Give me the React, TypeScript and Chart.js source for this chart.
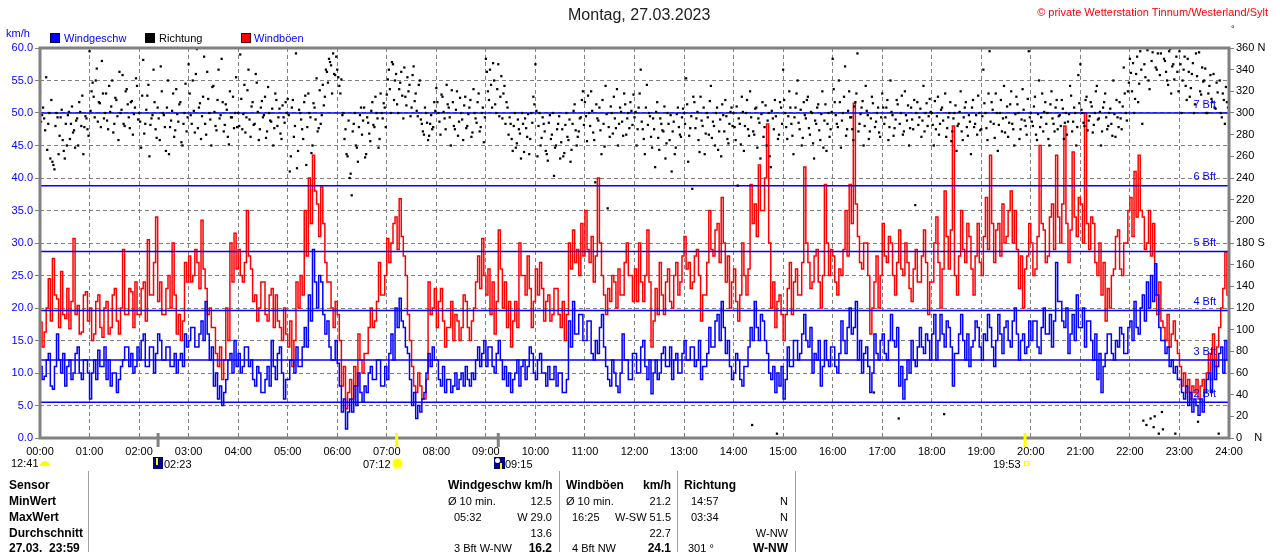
import { useEffect, useRef } from 'react';
import { Chart, registerables } from 'chart.js';

Chart.register(...registerables);

const FONT = 'Arial, "Liberation Sans", sans-serif';

const hourLabels = [
  '00:00', '01:00', '02:00', '03:00', '04:00', '05:00', '06:00', '07:00', '08:00',
  '09:00', '10:00', '11:00', '12:00', '13:00', '14:00', '15:00', '16:00', '17:00',
  '18:00', '19:00', '20:00', '21:00', '22:00', '23:00', '24:00',
];

// Windböen km/h, one row per hour (2.5 min steps)
const gustKmh: number[][] = [
  [17.8, 14, 16.3, 20, 24.5, 18, 27.6, 22, 21.4, 17, 25.6, 19, 18.4, 23, 16.8, 21, 30.7, 19, 20.4, 16, 16.3, 22, 22.5, 18],
  [20, 15, 16, 21, 22, 17, 15.5, 20, 21, 16, 17, 22, 23, 18, 16, 20, 29, 19, 19, 23, 22.5, 17, 24, 19],
  [19, 23, 24, 18, 30.5, 22, 22, 27, 34, 21, 24, 19, 19, 23, 25, 20, 30, 22, 16, 19, 15, 18, 27, 24],
  [28, 24, 25, 29, 27, 23, 33.5, 26, 23, 19, 20, 17, 17, 13, 11, 14, 9, 12, 20, 15, 30, 24, 31.5, 26],
  [29, 25, 24, 27, 35, 28, 26, 21, 22, 18, 20, 24, 24, 19, 18, 22, 23, 17, 22, 18, 17, 15, 20, 16],
  [14, 18, 11, 15, 24, 20, 25, 22, 35, 28, 40, 33, 43.5, 38, 36, 31, 38.6, 33, 27, 24, 24, 20, 17, 21],
  [19, 15, 8, 11, 4.5, 7, 9, 6, 11, 8, 16, 12, 10, 13, 13, 17, 20, 17, 18, 21, 27, 22, 22, 25],
  [30.7, 27, 30, 33, 34, 29, 36.8, 31, 28, 25, 19, 15, 11, 8, 7, 10, 8, 6, 6, 9, 24, 19, 20, 23],
  [17, 21, 23, 18, 14, 17, 17, 21, 15, 19, 18, 15, 17, 22, 21, 17, 15, 18, 20, 24, 28, 23, 30.7, 25],
  [22, 26, 19, 24, 16, 21, 32, 26, 20, 24, 17, 21, 14, 18, 21, 17, 30, 25, 25, 22, 28, 23, 17, 21],
  [26, 22, 27, 23, 18, 21, 22, 18, 19, 23, 23, 19, 17, 21, 15, 19, 30, 26, 32, 27, 29, 25, 33, 28],
  [35, 29, 27, 31, 24, 28, 40, 30, 25, 22, 19, 23, 21, 25, 24, 20, 26, 22, 22, 27, 30, 25, 25, 21],
  [26, 21, 30, 24, 21, 25, 32, 24, 14, 18, 23, 19, 27, 22, 19, 24, 26, 21, 20, 25, 27, 22, 24, 28],
  [31, 26, 27, 23, 24, 28, 29, 25, 18, 22, 22, 27, 35, 29, 28, 32, 33, 27, 37, 30, 24, 28, 20, 24],
  [26, 21, 18, 22, 30, 25, 22, 26, 39, 33, 36, 31, 42, 35, 35, 40, 48.3, 30, 20, 24, 17, 21, 22, 19],
  [15, 19, 23, 27, 19, 24, 26, 22, 22, 27, 41.7, 30, 27, 23, 24, 28, 29, 24, 20, 25, 39, 30, 25, 29],
  [28, 24, 22, 26, 25, 29, 35, 28, 39, 33, 51.5, 36, 31, 27, 26, 30, 30, 25, 16, 20, 24, 28, 20, 25],
  [33, 28, 27, 31, 30, 25, 22, 27, 32, 26, 25, 30, 27, 23, 21, 26, 29, 24, 24, 28, 32, 27, 19, 24],
  [24, 30, 34, 27, 20, 26, 38, 31, 26, 32, 48, 25, 22, 28, 35, 29, 27, 33, 31, 26, 22, 28, 33, 27],
  [25, 31, 37, 29, 43.5, 33, 27, 32, 33, 28, 36, 30, 31, 35, 38, 30, 35, 29, 23, 28, 20, 26, 28, 33],
  [30, 25, 26, 31, 45, 33, 32, 27, 28, 34, 36, 29, 43.5, 34, 30, 36, 48, 33, 27, 32, 44, 34, 31, 37],
  [36, 30, 50, 33, 29, 34, 33, 27, 25, 30, 22, 27, 18, 23, 20, 25, 26, 31, 32, 26, 25, 30, 30, 35],
  [37, 31, 41, 34, 43.5, 35, 34, 29, 30, 35, 28, 33, 22, 19, 24, 18, 17, 15, 19, 14, 16, 18, 15, 13],
  [11, 8, 10, 7, 9, 6, 8, 7, 9, 6, 8, 9, 7, 10, 13, 9, 16, 11, 14, 17, 20, 23, 28.6, 22],
];

// Windgeschw km/h, one row per hour (2.5 min steps)
const speedKmh: number[][] = [
  [11, 9, 9.5, 12, 13, 8, 7.5, 11, 16, 12, 10, 13, 8, 11, 12, 9, 10, 13, 14, 10, 9, 12, 12, 10],
  [6, 10, 12, 9, 13.5, 11, 11, 14, 9, 12, 8, 10, 10, 7, 9, 11, 12, 14, 14, 11, 13, 10, 11, 14],
  [12, 15, 16, 11, 11, 14, 14, 10, 13, 16, 15, 12, 12, 14, 14, 11, 11, 13, 10, 12, 13, 11, 16, 14],
  [15, 17, 17, 14, 14, 16, 18, 15, 21, 16, 12, 14, 8, 10, 6, 8, 5, 7, 9, 12, 13, 10, 15, 11],
  [13, 10, 11, 14, 14, 11, 12, 9, 8, 11, 10, 7, 7, 9, 11, 8, 15, 11, 9, 13, 14, 10, 6, 9],
  [9, 12, 12, 10, 14, 11, 11, 14, 17, 14, 22, 18, 29, 24, 20, 25, 24, 19, 16, 18, 14, 12, 12, 15],
  [11.5, 8, 4, 6, 1.4, 4, 6, 4, 8, 5, 10, 7, 5.5, 8, 7, 10, 11, 9, 9, 12, 12, 8, 8, 11],
  [9, 13, 16, 12, 20, 17, 21.5, 18, 17, 14, 13, 9, 5, 7, 3, 5, 4, 6, 7, 10, 13, 11, 14, 12],
  [12, 9, 8, 11, 7, 9, 9, 7, 8, 10, 7.5, 9, 10, 8, 11, 9, 8, 10, 9, 12, 14, 11, 13, 15],
  [11, 14, 14, 11, 10, 13, 15, 12, 9, 11, 8, 10, 7, 9, 10, 12, 8, 11, 12, 9, 11, 14, 13, 10],
  [9, 12, 13, 10, 10, 8, 11, 9, 9, 11, 8, 10, 10, 7, 7, 9, 18, 14, 21, 16, 16, 19, 19, 15],
  [15, 18, 18, 13, 12, 15, 13, 17, 19, 14, 11, 9, 8, 12, 10, 8, 7, 10, 16, 12, 12, 9, 9, 13],
  [13, 10, 10, 14, 15, 11, 9, 12, 6.8, 10, 12, 9, 10, 13, 14, 11, 11, 14, 9, 12, 13, 10, 10, 13],
  [15, 12, 12, 14, 14, 11, 12, 15, 9, 11, 11, 13, 17, 14, 14, 18, 19, 15, 21, 17, 13, 15, 11, 9],
  [10, 13, 12, 9, 8, 11, 11, 14, 17, 15, 21, 17, 15, 19, 18, 15, 13, 10, 9, 11, 7, 10, 8, 11],
  [6, 9, 14, 11, 11, 15, 15, 12, 13, 16, 19, 15, 14, 17, 10, 13, 12, 15, 8, 11, 15, 12, 11, 14],
  [14, 11, 10, 13, 18, 15, 13, 17, 20, 16, 17, 21, 12, 15, 10, 13, 14, 11, 7, 10, 16, 13, 12, 15],
  [16, 13, 12, 15, 19, 15, 14, 17, 8, 11, 6, 9, 12, 10, 15, 12, 11, 14, 17, 14, 13, 16, 15, 12],
  [16, 19, 12, 15, 19, 16, 14, 18, 17, 14, 8, 13, 13, 16, 19, 15, 12, 16, 11, 14, 15, 18, 17, 14],
  [12, 16, 15, 19, 17, 14, 11, 15, 19, 16, 13, 17, 18, 15, 14, 18, 20, 16, 12, 15, 16, 13, 14, 18],
  [15, 18, 18, 14, 13, 17, 20, 16, 16, 19, 14, 18, 27, 21, 21, 18, 17, 20, 13, 16, 19, 15, 22, 17],
  [17, 20, 14, 18, 18, 15, 12, 16, 9, 13, 7, 11, 13, 16, 16, 13, 12, 15, 14, 17, 16, 13, 13, 17],
  [18, 15, 21, 17, 16, 20, 22, 18, 24, 20, 25, 21, 26.8, 22, 17, 15, 15, 13, 14, 11, 12, 10, 11, 9],
  [9, 7, 6, 8, 5, 7, 4, 6, 5, 3.5, 6, 4, 7, 9, 10, 7, 12, 9, 11, 13, 14, 10, 15, 12],
];

// Richtung in degrees, one row per hour (readings at :00, :02.5, ...)
const directionDeg: number[][] = [
  [320, 298, 295, 333, 290, 258, 255, 248, 300, 262, 296, 275, 258, 270, 301, 290, 282, 268, 295, 310, 288, 262, 297, 285],
  [357, 320, 315, 330, 292, 309, 348, 295, 318, 285, 301, 330, 290, 312, 275, 300, 335, 288, 322, 296, 310, 280, 305, 325],
  [300, 268, 349, 290, 316, 260, 295, 340, 285, 305, 275, 320, 298, 265, 330, 287, 302, 278, 322, 292, 310, 270, 300, 283],
  [345, 298, 330, 282, 359, 305, 276, 315, 290, 338, 300, 270, 325, 288, 312, 295, 350, 283, 308, 278, 320, 296, 286, 333],
  [300, 354, 285, 326, 296, 340, 278, 310, 290, 328, 275, 305, 296, 315, 283, 300, 292, 270, 318, 288, 304, 276, 296, 310],
  [313, 246, 305, 278, 355, 265, 300, 285, 310, 252, 318, 296, 270, 305, 332, 286, 290, 326, 315, 338, 350, 344, 355, 335],
  [340, 325, 331, 300, 285, 260, 240, 224, 290, 270, 255, 298, 280, 305, 262, 291, 274, 310, 287, 300, 268, 318, 295, 305],
  [317, 340, 300, 345, 330, 308, 322, 338, 295, 315, 333, 326, 305, 343, 318, 297, 330, 290, 280, 300, 275, 290, 285, 310],
  [323, 300, 280, 315, 295, 326, 305, 270, 310, 285, 320, 292, 300, 275, 315, 288, 305, 278, 322, 295, 310, 283, 300, 273],
  [350, 320, 340, 305, 330, 300, 345, 315, 295, 325, 310, 280, 290, 265, 300, 272, 285, 258, 290, 295, 278, 262, 300, 315],
  [345, 260, 300, 277, 290, 265, 256, 298, 280, 242, 270, 290, 258, 285, 263, 300, 275, 255, 290, 308, 270, 283, 296, 320],
  [310, 274, 300, 320, 282, 236, 295, 305, 262, 290, 325, 212, 278, 300, 315, 286, 270, 305, 292, 318, 280, 300, 310, 289],
  [296, 270, 305, 340, 285, 262, 326, 300, 278, 295, 250, 310, 266, 290, 283, 258, 300, 275, 246, 292, 268, 305, 280, 296],
  [300, 332, 255, 286, 230, 310, 295, 275, 315, 288, 262, 300, 280, 325, 292, 270, 305, 283, 260, 298, 312, 276, 290, 305],
  [300, 275, 233, 290, 315, 265, 300, 285, 320, 12, 280, 305, 295, 258, 310, 287, 270, 300, 250, 295, 312, 4, 280, 305],
  [340, 300, 276, 320, 290, 262, 305, 330, 285, 270, 310, 295, 315, 280, 300, 258, 290, 308, 275, 320, 293, 265, 300, 285],
  [350, 310, 290, 330, 268, 300, 343, 285, 320, 296, 275, 310, 355, 290, 305, 270, 325, 298, 283, 315, 42, 292, 305, 278],
  [318, 290, 305, 275, 330, 298, 286, 312, 18, 300, 280, 320, 293, 270, 305, 285, 215, 310, 296, 278, 325, 300, 288, 313],
  [300, 270, 285, 315, 290, 305, 22, 278, 296, 310, 283, 300, 265, 290, 320, 275, 305, 287, 298, 262, 312, 290, 280, 300],
  [285, 340, 300, 275, 357, 310, 290, 318, 265, 300, 283, 325, 296, 278, 308, 290, 270, 315, 300, 285, 322, 293, 280, 357],
  [300, 288, 315, 275, 330, 296, 283, 310, 300, 270, 320, 290, 305, 285, 298, 312, 276, 300, 292, 325, 283, 305, 270, 335],
  [345, 300, 288, 315, 293, 310, 282, 300, 325, 295, 270, 305, 318, 285, 300, 290, 330, 278, 296, 310, 285, 342, 300, 320],
  [350, 320, 300, 336, 310, 357, 290, 345, 12, 330, 18, 356, 20, 340, 4, 355, 8, 348, 330, 357, 318, 345, 4, 338],
  [357, 300, 340, 325, 350, 315, 336, 300, 355, 15, 320, 342, 330, 300, 318, 335, 310, 305, 328, 4, 300, 318, 290, 310],
];

// Richtung in degrees, the readings in between (:01.25, :03.75, ...)
const directionDegMid: number[][] = [
  [292, 305, 284, 266, 300, 312, 252, 288, 296, 279, 303, 265, 290, 298, 276, 306, 284, 293, 270, 301, 316, 287, 295, 279],
  [302, 328, 296, 341, 310, 287, 318, 300, 293, 325, 306, 282, 314, 297, 338, 303, 290, 320, 308, 286, 311, 299, 332, 294],
  [292, 316, 281, 303, 326, 289, 298, 310, 277, 295, 343, 300, 287, 305, 262, 293, 318, 284, 299, 308, 273, 290, 327, 296],
  [318, 290, 302, 336, 286, 309, 297, 352, 280, 313, 294, 324, 301, 284, 340, 298, 310, 289, 303, 271, 296, 315, 300, 287],
  [288, 313, 299, 282, 321, 294, 306, 289, 336, 301, 285, 311, 298, 277, 324, 293, 304, 286, 312, 296, 281, 307, 291, 300],
  [298, 260, 312, 288, 249, 303, 294, 276, 316, 287, 300, 263, 309, 294, 283, 321, 298, 307, 340, 328, 347, 318, 336, 352],
  [333, 318, 298, 276, 262, 293, 244, 283, 300, 268, 287, 305, 293, 259, 296, 281, 302, 289, 315, 295, 276, 300, 309, 287],
  [331, 322, 347, 312, 336, 300, 328, 316, 342, 307, 320, 297, 335, 311, 302, 326, 294, 283, 305, 291, 279, 298, 287, 302],
  [310, 292, 317, 301, 285, 308, 296, 321, 288, 303, 279, 314, 294, 307, 286, 299, 312, 282, 300, 291, 318, 287, 305, 296],
  [338, 312, 326, 346, 308, 322, 297, 334, 318, 290, 305, 296, 276, 288, 268, 294, 281, 300, 264, 286, 299, 276, 291, 308],
  [302, 288, 270, 296, 283, 262, 291, 276, 300, 268, 285, 297, 273, 260, 289, 278, 294, 266, 302, 284, 278, 295, 312, 289],
  [297, 316, 288, 302, 275, 308, 293, 284, 312, 269, 299, 287, 306, 281, 295, 322, 290, 301, 279, 308, 295, 286, 302, 317],
  [301, 285, 318, 292, 276, 305, 289, 297, 268, 285, 301, 277, 295, 284, 306, 272, 290, 298, 283, 262, 299, 287, 278, 304],
  [290, 308, 279, 297, 315, 286, 301, 264, 293, 305, 281, 296, 311, 277, 288, 300, 266, 294, 308, 283, 297, 272, 301, 288],
  [287, 306, 295, 271, 301, 288, 312, 279, 296, 283, 304, 268, 291, 299, 278, 307, 293, 260, 302, 285, 297, 276, 310, 290],
  [312, 287, 297, 305, 279, 296, 318, 291, 303, 277, 298, 312, 286, 301, 272, 293, 305, 284, 299, 268, 308, 290, 278, 301],
  [322, 298, 287, 310, 293, 315, 279, 302, 296, 285, 306, 318, 283, 299, 311, 288, 302, 276, 295, 309, 287, 300, 282, 296],
  [305, 296, 312, 287, 301, 279, 294, 308, 290, 316, 283, 298, 307, 286, 294, 312, 300, 289, 304, 293, 283, 309, 297, 301],
  [289, 311, 297, 280, 303, 293, 318, 286, 300, 274, 295, 307, 288, 301, 283, 296, 310, 279, 292, 305, 287, 298, 316, 284],
  [297, 309, 286, 318, 292, 303, 277, 300, 289, 312, 295, 282, 306, 291, 320, 285, 299, 308, 276, 294, 303, 288, 313, 296],
  [292, 306, 280, 299, 287, 318, 301, 290, 276, 308, 295, 283, 312, 297, 288, 304, 291, 280, 299, 316, 292, 300, 287, 309],
  [303, 291, 312, 284, 297, 306, 289, 320, 294, 301, 283, 310, 296, 288, 304, 279, 299, 312, 287, 295, 306, 318, 293, 328],
  [337, 346, 313, 352, 327, 340, 16, 333, 358, 322, 348, 10, 342, 355, 335, 24, 350, 338, 326, 359, 343, 331, 352, 320],
  [345, 330, 352, 312, 338, 323, 346, 308, 334, 356, 317, 329, 341, 300, 325, 313, 336, 304, 319, 330, 296, 312, 324, 305],
];

const bftLevels = [5.5, 12, 19.6, 28.7, 38.8, 50];
const bftNames = ['2 Bft', '3 Bft', '4 Bft', '5 Bft', '6 Bft', '7 Bft'];

// sun / moon events (minutes of the day) marked on the time axis
const eventMinutes = [143, 432, 555, 1193];
const eventColors = ['#808080', '#ffff00', '#808080', '#ffff00'];

function toPoints(rows: number[][], closeDay: boolean, offset = 0) {
  const pts: { x: number; y: number }[] = [];
  rows.forEach((row, h) => {
    row.forEach((v, k) => pts.push({ x: h * 60 + (k * 60) / row.length + offset, y: v }));
  });
  if (closeDay) pts.push({ x: 1440, y: pts[pts.length - 1].y });
  return pts;
}

const overlayPlugin = {
  id: 'overlay',
  afterDatasetsDraw(chart: any) {
    const { ctx, chartArea: a, scales } = chart;
    ctx.save();
    ctx.font = `11px ${FONT}`;
    ctx.fillStyle = '#0000ff';
    ctx.textAlign = 'right';
    ctx.textBaseline = 'middle';
    bftLevels.forEach((v, i) => {
      ctx.fillText(bftNames[i], a.right - 13, scales.y.getPixelForValue(v) - 8.5);
    });
    ctx.strokeStyle = '#808080';
    ctx.lineWidth = 3;
    ctx.strokeRect(a.left, a.top, a.right - a.left, a.bottom - a.top);
    eventMinutes.forEach((m, i) => {
      const x = scales.x.getPixelForValue(m);
      ctx.fillStyle = eventColors[i];
      ctx.fillRect(x - 1.5, a.bottom - 5, 3, 14);
    });
    ctx.restore();
  },
};

function WindChart() {
  const canvasRef = useRef<HTMLCanvasElement>(null);
  const chartRef = useRef<Chart | null>(null);

  useEffect(() => {
    if (!canvasRef.current) return;

    const bftSets = bftLevels.map((v) => ({
      type: 'line' as const,
      data: [{ x: 0, y: v }, { x: 1440, y: v }],
      borderColor: '#0000ff',
      borderWidth: 1.5,
      pointRadius: 0,
      order: 1,
      yAxisID: 'y',
    }));

    const dirPoints = [...toPoints(directionDeg, false), ...toPoints(directionDegMid, false, 1.25)];

    chartRef.current = new Chart(canvasRef.current, {
      type: 'line',
      data: {
        datasets: [
          {
            label: 'Richtung',
            data: dirPoints,
            showLine: false,
            pointStyle: 'rect',
            pointRadius: 1.6,
            pointBorderWidth: 0,
            pointBackgroundColor: '#000000',
            yAxisID: 'y2',
            order: 0,
          },
          ...bftSets,
          {
            label: 'Windgeschw',
            data: toPoints(speedKmh, true),
            borderColor: '#0000ff',
            borderWidth: 1.5,
            stepped: true,
            pointRadius: 0,
            yAxisID: 'y',
            order: 2,
          },
          {
            label: 'Windböen',
            data: toPoints(gustKmh, true),
            borderColor: '#ff0000',
            borderWidth: 1.5,
            stepped: true,
            pointRadius: 0,
            yAxisID: 'y',
            order: 3,
          },
        ] as any,
      },
      options: {
        responsive: false,
        animation: false,
        layout: { padding: { top: 48, left: 0, right: 0, bottom: 0 } },
        plugins: { legend: { display: false }, tooltip: { enabled: false } },
        scales: {
          x: {
            type: 'linear',
            min: 0,
            max: 1440,
            afterFit: (s: any) => { s.height = 114; },
            ticks: {
              stepSize: 60,
              autoSkip: false,
              maxRotation: 0,
              minRotation: 0,
              padding: 7,
              color: '#000000',
              font: { family: FONT, size: 11 },
              callback: (v: any) => hourLabels[Math.round(Number(v) / 60)],
            },
            grid: { color: '#808080', drawTicks: false },
            border: { display: false, dash: [4, 3] },
          },
          y: {
            position: 'left',
            min: 0,
            max: 60,
            afterFit: (s: any) => { s.width = 40; },
            ticks: {
              stepSize: 5,
              padding: 2,
              color: '#0000ff',
              font: { family: FONT, size: 11 },
              callback: (v: any) => Number(v).toFixed(1),
            },
            grid: { color: '#808080', tickLength: 5, tickColor: '#808080' },
            border: { display: false, dash: [4, 3] },
          },
          y2: {
            position: 'right',
            min: 0,
            max: 360,
            afterFit: (s: any) => { s.width = 51; },
            ticks: {
              stepSize: 20,
              padding: 2,
              color: '#000000',
              font: { family: FONT, size: 11 },
              callback: (v: any) => {
                const n = Number(v);
                if (n === 0) return '0    N';
                if (n === 180) return '180 S';
                if (n === 360) return '360 N';
                return String(n);
              },
            },
            grid: { drawOnChartArea: false, tickLength: 5, tickColor: '#808080' },
            border: { display: false },
          },
        },
      } as any,
      plugins: [overlayPlugin],
    });

    return () => {
      chartRef.current?.destroy();
      chartRef.current = null;
    };
  }, []);

  return <canvas ref={canvasRef} width={1280} height={552} style={{ position: 'absolute', left: 0, top: 0 }} />;
}

function T({ x, y, right, bold, color, size, children }: any) {
  const style: any = {
    position: 'absolute',
    top: y - 7,
    lineHeight: '14px',
    whiteSpace: 'pre',
    fontFamily: FONT,
    fontSize: size ?? (bold ? 12 : 11),
    fontWeight: bold ? 'bold' : 'normal',
    color: color ?? '#000000',
  };
  if (right !== undefined) style.right = 1280 - right;
  else style.left = x;
  return <div style={style}>{children}</div>;
}

function Box({ x, y, w, h, bg, border }: any) {
  return (
    <div
      style={{
        position: 'absolute', left: x, top: y, width: w, height: h, background: bg,
        border: border ?? 'none', boxSizing: 'border-box',
      }}
    />
  );
}

const rowY = [485, 501, 517, 533, 548];

export default function App() {
  return (
    <div
      style={{
        position: 'fixed', left: 0, top: 0, width: 1280, height: 552,
        overflow: 'hidden', background: '#ffffff',
      }}
    >
      <WindChart />

      <T x={568} y={15} size={16} color="#202020">Montag, 27.03.2023</T>
      <T right={1268} y={12} color="#ff0000">© private Wetterstation Tinnum/Westerland/Sylt</T>
      <T x={1231} y={29} size={9}>°</T>

      <T x={6} y={33} color="#0000ff">km/h</T>
      <Box x={50} y={33} w={10} h={10} bg="#0000ff" border="1px solid #000050" />
      <T x={64} y={38} color="#0000ff">Windgeschw</T>
      <Box x={145} y={33} w={10} h={10} bg="#000000" />
      <T x={159} y={38}>Richtung</T>
      <Box x={241} y={33} w={10} h={10} bg="#ff0000" border="1px solid #500000" />
      <T x={254} y={38} color="#0000ff">Windböen</T>

      {/* sun and moon events below the time axis */}
      <T x={11} y={463}>12:41</T>
      <div style={{ position: 'absolute', left: 40, top: 461, width: 10, height: 5, background: '#ffff00', borderRadius: '5px 5px 0 0' }} />
      <Box x={153} y={457} w={10} h={12} bg="#000080" />
      <div style={{ position: 'absolute', left: 156, top: 458, width: 2, height: 7, background: '#ffff00' }} />
      <T x={164} y={464}>02:23</T>
      <T x={363} y={464}>07:12</T>
      <div style={{ position: 'absolute', left: 393, top: 459, width: 9, height: 9, background: '#ffff00', borderRadius: '50%', boxShadow: '0 0 2px 1px #ffff80' }} />
      <Box x={494} y={457} w={11} h={12} bg="#000080" />
      <div style={{ position: 'absolute', left: 495, top: 458, width: 5, height: 5, background: '#ffffff', borderRadius: '50%' }} />
      <div style={{ position: 'absolute', left: 500, top: 463, width: 2, height: 6, background: '#ffff00' }} />
      <T x={505} y={464}>09:15</T>
      <T x={993} y={464}>19:53</T>
      <Box x={1024} y={461} w={5} h={5} bg="transparent" border="1px solid #ffff00" />

      {/* summary table */}
      {[88, 559, 677, 795].map((x) => (
        <div key={x} style={{ position: 'absolute', left: x, top: 471, width: 1, height: 81, background: '#a0a0a0' }} />
      ))}
      <T x={9} y={rowY[0]} bold>Sensor</T>
      <T x={9} y={rowY[1]} bold>MinWert</T>
      <T x={9} y={rowY[2]} bold>MaxWert</T>
      <T x={9} y={rowY[3]} bold>Durchschnitt</T>
      <T x={9} y={rowY[4]} bold>27.03.  23:59</T>

      <T x={448} y={rowY[0]} bold>Windgeschw km/h</T>
      <T x={448} y={rowY[1]}>Ø 10 min.</T>
      <T right={552} y={rowY[1]}>12.5</T>
      <T x={454} y={rowY[2]}>05:32</T>
      <T right={552} y={rowY[2]}>W 29.0</T>
      <T right={552} y={rowY[3]}>13.6</T>
      <T x={454} y={rowY[4]}>3 Bft W-NW</T>
      <T right={552} y={rowY[4]} bold>16.2</T>

      <T x={566} y={rowY[0]} bold>Windböen</T>
      <T right={671} y={rowY[0]} bold>km/h</T>
      <T x={566} y={rowY[1]}>Ø 10 min.</T>
      <T right={671} y={rowY[1]}>21.2</T>
      <T x={572} y={rowY[2]}>16:25</T>
      <T right={671} y={rowY[2]}>W-SW 51.5</T>
      <T right={671} y={rowY[3]}>22.7</T>
      <T x={572} y={rowY[4]}>4 Bft NW</T>
      <T right={671} y={rowY[4]} bold>24.1</T>

      <T x={684} y={rowY[0]} bold>Richtung</T>
      <T x={691} y={rowY[1]}>14:57</T>
      <T right={788} y={rowY[1]}>N</T>
      <T x={691} y={rowY[2]}>03:34</T>
      <T right={788} y={rowY[2]}>N</T>
      <T right={788} y={rowY[3]}>W-NW</T>
      <T x={688} y={rowY[4]}>301 °</T>
      <T right={788} y={rowY[4]} bold>W-NW</T>
    </div>
  );
}
